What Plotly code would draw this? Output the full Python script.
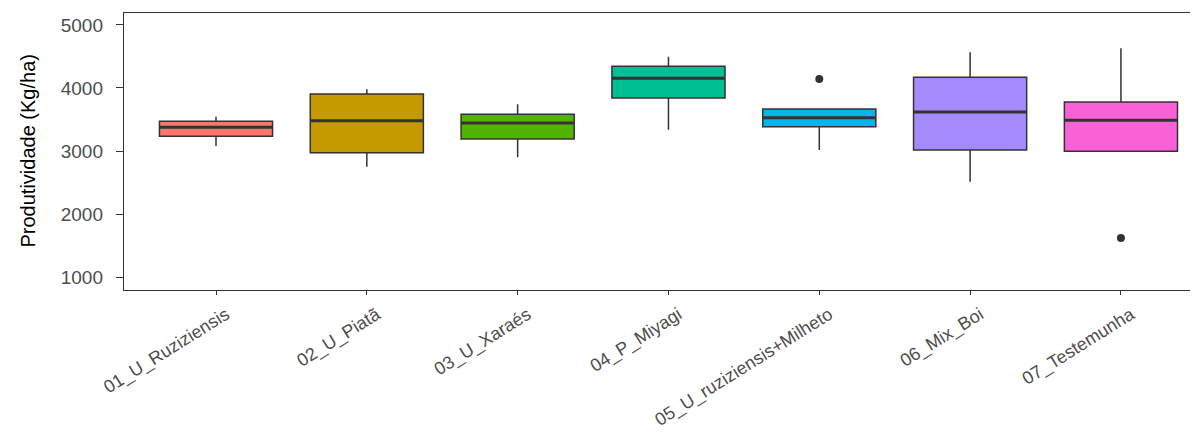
import plotly.graph_objects as go

categories = ["01_U_Ruziziensis", "02_U_Piatã", "03_U_Xaraés", "04_P_Miyagi",
              "05_U_ruziziensis+Milheto", "06_Mix_Boi", "07_Testemunha"]
lower_whisker = [3079, 2751, 2899, 3339, 3016, 2513, 2995]
q1 = [3233, 2973, 3190, 3841, 3386, 3016, 2995]
median = [3376, 3481, 3444, 4153, 3529, 3619, 3487]
q3 = [3471, 3905, 3582, 4344, 3667, 4170, 3778]
upper_whisker = [3545, 3979, 3741, 4497, 3667, 4566, 4630]
outlier_cat = [5, 7]
outlier_val = [4143, 1619]
fill_colors = ["#F8766D", "#C49A00", "#53B400", "#00C094", "#00B6EB", "#A58AFF", "#FB61D7"]

positions = list(range(1, len(categories) + 1))
box_w = 0.75
edge = "#333333"

fig = go.Figure()
for i, pos in enumerate(positions):
    fig.add_trace(go.Box(
        x=[pos], q1=[q1[i]], median=[median[i]], q3=[q3[i]],
        lowerfence=[lower_whisker[i]], upperfence=[upper_whisker[i]],
        width=box_w, fillcolor=fill_colors[i],
        line=dict(color=edge, width=1.5), whiskerwidth=0,
        boxpoints=False, showlegend=False, hoverinfo="skip",
    ))

# thicker median lines (ggplot fatten)
mx, my = [], []
for pos, m in zip(positions, median):
    mx += [pos - box_w / 2, pos + box_w / 2, None]
    my += [m, m, None]
fig.add_trace(go.Scatter(x=mx, y=my, mode="lines",
                         line=dict(color=edge, width=3), showlegend=False, hoverinfo="skip"))

fig.add_trace(go.Scatter(x=outlier_cat, y=outlier_val, mode="markers",
                         marker=dict(color=edge, size=8), showlegend=False, hoverinfo="skip"))

font_family = "Liberation Sans, Arial, sans-serif"
fig.update_layout(
    width=1190, height=429,
    margin=dict(l=116, r=0, t=5, b=147, autoexpand=False),
    paper_bgcolor="white", plot_bgcolor="white",
    font=dict(family=font_family),
    xaxis=dict(
        range=[0.39, 7.511], tickmode="array", tickvals=positions, ticktext=categories,
        tickangle=-32, tickfont=dict(size=18, color="#4D4D4D"), automargin=False,
        ticklabelshift=10, ticklabelstandoff=2,
        showgrid=False, zeroline=False, showline=True, linecolor=edge, linewidth=1.4,
        mirror=True, ticks="outside", ticklen=4, tickcolor=edge, tickwidth=1.2,
    ),
    yaxis=dict(
        range=[794, 5190], tickmode="array", tickvals=[1000, 2000, 3000, 4000, 5000],
        tickfont=dict(size=19, color="#4D4D4D"), automargin=False, ticklabelstandoff=9,
        showgrid=False, zeroline=False, showline=True, linecolor=edge, linewidth=1.4,
        ticks="outside", ticklen=7, tickcolor=edge, tickwidth=1.2,
    ),
    annotations=[dict(
        text="Produtividade (Kg/ha)", textangle=-90, xref="paper", yref="paper",
        x=(27 - 124) / 1074, y=0.5, xanchor="center", yanchor="middle",
        showarrow=False, font=dict(size=20, color="black"),
    )],
)

fig.write_html("out.html")
